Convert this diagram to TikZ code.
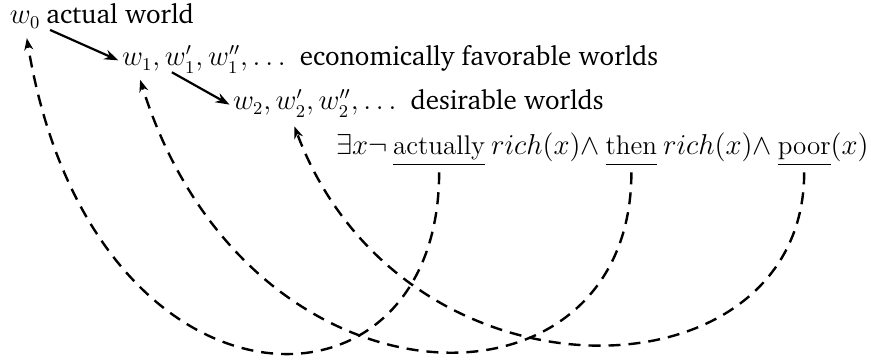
\documentclass[tikz,border=0pt]{standalone}
\usepackage{amsmath}
\usepackage[T1,TU]{fontenc}
\usepackage{tikz}
\usetikzlibrary{positioning,arrows.meta}
\newcommand{\chfont}{\fontencoding{T1}\fontfamily{bch}\selectfont}

\begin{document}
\begin{tikzpicture}[x=0.5pt,y=-0.5pt,
  wnode/.style={inner sep=0pt,outer sep=0pt,anchor=base west,font=\fontsize{13.5}{16}\selectfont},
  wlab/.style={inner sep=0pt,outer sep=0pt,font=\fontsize{13.5}{16}\chfont},
  sarr/.style={-{Stealth[length=7pt,width=5pt]},line width=1.1pt,shorten <=2pt,shorten >=2pt},
  darr/.style={-{Stealth[length=6pt,width=4.5pt]},line width=1.2pt,dash pattern=on 6pt off 4pt,
    shorten <=3pt,shorten >=5pt}
]
\useasboundingbox (0,0) rectangle (871,363);
% worlds
\node[wnode] (w0) at (10,24) {$w_0$};
\node[wlab,base right=3pt of w0] (l0) {actual world};
\node[wnode] (w1) at (122,66) {$w_1$};
\node[wnode,base right=0pt of w1] (w1r) {$,w_1',w_1'',\ldots$};
\node[wlab,base right=7pt of w1r] (l1) {economically favorable worlds};
\node[wnode] (w2) at (233,110) {$w_2,$};
\node[wnode,base right=2.25pt of w2] (w2p) {$w_2'$};
\node[wnode,base right=0pt of w2p] (w2r) {$,w_2'',\ldots$};
\node[wlab,base right=7pt of w2r] (l2) {desirable worlds};
% formula
\node[wnode] (f0) at (336,155) {$\exists x\neg$};
\node[wnode,base right=3pt of f0] (act) {$\underline{\text{actually}}$};
\node[wnode,base right=3pt of act] (f1) {$rich(x)\wedge$};
\node[wnode,base right=3pt of f1] (thn) {$\underline{\vphantom{y}\text{then}}$};
\node[wnode,base right=3pt of thn] (f2) {$rich(x)\wedge$};
\node[wnode,base right=3pt of f2] (por) {$\underline{\vphantom{y}\text{poor}}$};
\node[wnode,base right=0pt of por] (f3) {$(x)$};
% accessibility
\draw[sarr] ([xshift=3pt]w0.south east) -- (w1.west);
\draw[sarr] ([xshift=8pt]w1.south east) -- (w2.west);
% back references
\draw[darr] (act.south) .. controls +(0,270) and +(66,400) .. (w0.south);
\draw[darr] (thn.south) .. controls +(0,262) and +(110,352) .. (w1.south);
\draw[darr] (por.south) .. controls +(0,238) and +(112,298) .. (w2p.south);
\end{tikzpicture}
\end{document}
